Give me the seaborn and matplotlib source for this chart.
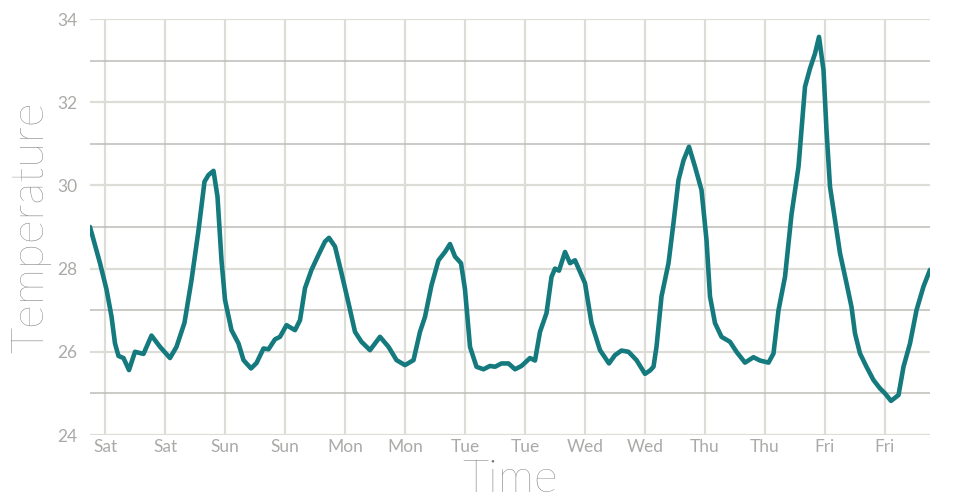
import pandas as pd
import matplotlib
matplotlib.use("Agg")
import matplotlib.pyplot as plt
import matplotlib.dates as mdates
from matplotlib.ticker import MultipleLocator
import seaborn as sns

# hours since start (Fri 21:00) and temperature readings
hours = [0, 2, 3.3, 4.3, 5, 5.7, 6.7, 7.8, 9, 10.7, 12.3, 14, 16, 17.3, 18.9,
         20.3, 21.7, 22.9, 23.7, 24.7, 25.5, 26.3, 27, 28.3, 29.7, 30.7, 32.2,
         33.3, 34.7, 35.7, 37, 38, 39.3, 41, 42, 43, 44.3, 45.7, 47, 47.8, 49,
         50.3, 51.7, 53, 54.3, 56, 58, 59.7, 61.3, 63, 64.7, 66, 67, 68.3, 69.7,
         71, 72, 73, 74.2, 75, 76, 77.3, 78.7, 80, 81, 82.3, 83.7, 85, 86.3, 88,
         89, 90, 91.3, 92.3, 93, 93.8, 95, 96, 97, 99, 100.3, 102, 103.8, 105,
         106.3, 107.7, 109.3, 111, 112, 112.7, 113.3, 114.3, 115.7, 116.7, 117.7,
         118.7, 119.8, 121, 122.3, 123.3, 124, 125, 126.3, 128, 129.3, 131,
         132.7, 134, 135.7, 136.7, 137.7, 139, 140.3, 141.7, 142.3, 143, 144,
         145, 145.8, 146.7, 147.3, 148, 149, 150, 151.3, 152.3, 153, 154, 155.3,
         156.7, 158, 159, 160.2, 161.7, 162.7, 164, 165.3, 166.7, 168]
temps = [29.0, 28.13, 27.5, 26.85, 26.2, 25.9, 25.85, 25.56, 26.0, 25.95, 26.39,
         26.12, 25.85, 26.12, 26.7, 27.72, 28.92, 30.09, 30.25, 30.35, 29.73,
         28.2, 27.25, 26.52, 26.2, 25.8, 25.6, 25.73, 26.08, 26.06, 26.3, 26.36,
         26.64, 26.52, 26.76, 27.53, 27.97, 28.33, 28.65, 28.74, 28.53, 27.89,
         27.17, 26.48, 26.24, 26.04, 26.36, 26.12, 25.8, 25.68, 25.8, 26.48,
         26.84, 27.6, 28.2, 28.4, 28.59, 28.29, 28.13, 27.5, 26.12, 25.64, 25.58,
         25.66, 25.64, 25.72, 25.72, 25.58, 25.66, 25.85, 25.79, 26.48, 26.93,
         27.8, 28.0, 27.95, 28.4, 28.13, 28.2, 27.65, 26.69, 26.04, 25.72, 25.92,
         26.03, 26.0, 25.8, 25.47, 25.55, 25.64, 26.12, 27.33, 28.13, 29.1, 30.13,
         30.6, 30.93, 30.45, 29.89, 28.69, 27.33, 26.69, 26.36, 26.24, 26.0,
         25.74, 25.87, 25.79, 25.74, 25.96, 27.0, 27.8, 29.3, 30.45, 31.33,
         32.37, 32.81, 33.17, 33.57, 32.77, 31.33, 29.97, 29.17, 28.37, 27.65,
         27.08, 26.44, 25.96, 25.64, 25.32, 25.12, 25.0, 24.82, 24.96, 25.64,
         26.2, 27.0, 27.57, 27.97]

start = pd.Timestamp("2019-06-07 21:00")
df = pd.DataFrame({
    "time": start + pd.to_timedelta(hours, unit="h"),
    "temp": temps,
})

sns.set_theme(style="white")
plt.rcParams["font.family"] = ["Lato", "DejaVu Sans"]

fig = plt.figure(figsize=(9.6, 5), dpi=100)
ax = fig.add_axes([90 / 960, 65 / 500, 840 / 960, 416 / 500])

sns.lineplot(data=df, x="time", y="temp", ax=ax, color="#147a7e",
             linewidth=3.3, estimator=None, sort=False)
ax.lines[0].set_solid_joinstyle("round")
ax.lines[0].set_solid_capstyle("round")

ax.set_xlim(df["time"].iloc[0], df["time"].iloc[-1])
ax.set_ylim(24, 34)

ax.yaxis.set_major_locator(MultipleLocator(2))
ax.yaxis.set_minor_locator(MultipleLocator(1))
ax.xaxis.set_major_locator(mdates.HourLocator(byhour=[0, 12]))
ax.xaxis.set_major_formatter(mdates.DateFormatter("%a"))

ax.grid(True, which="major", color="#dddcd6", linewidth=1.6)
ax.grid(True, which="minor", axis="y", color="#bdbcb8", linewidth=1.1)
ax.set_axisbelow(True)
for s in ax.spines.values():
    s.set_visible(False)

ax.tick_params(axis="both", which="both", length=0, labelsize=12.5,
               labelcolor="#aaaaa8")
ax.tick_params(axis="x", pad=3)
ax.tick_params(axis="y", pad=9)

ax.set_xlabel("Time", fontsize=33, color="#74746f", fontweight="light")
ax.set_ylabel("Temperature", fontsize=33, color="#74746f", fontweight="light")
ax.xaxis.set_label_coords(0.5, -0.058)
ax.yaxis.set_label_coords(-0.046, 0.5)

fig.savefig("out.png", dpi=100, facecolor="white")
